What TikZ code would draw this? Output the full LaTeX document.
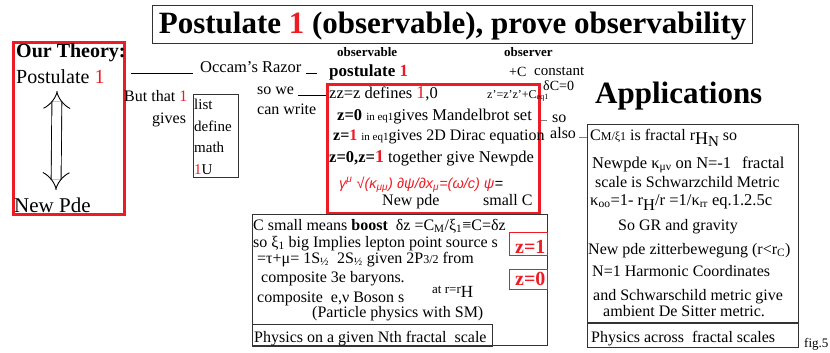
\documentclass[tikz,border=0pt]{standalone}
\usepackage{fontspec}
\setmainfont{Liberation Serif}
\newfontfamily\arialfont{Liberation Sans}
\usetikzlibrary{arrows.meta}
\definecolor{myred}{RGB}{237,28,36}
\newcommand{\fs}[1]{\fontsize{#1}{#1}\selectfont}
\newcommand{\rd}[1]{\textcolor{myred}{#1}}
\newcommand{\lo}[1]{\textsubscript{#1}}
\begin{document}
\begin{tikzpicture}[x=1pt,y=-1pt,
  txt/.style={anchor=base west,inner sep=0pt,font=\fs{16}},
  redbox/.style={draw=myred,line width=3pt,inner sep=0pt,anchor=north west},
  blackbox/.style={draw=black!80,line width=1.2pt,inner sep=0pt,anchor=north west},
  thinred/.style={draw=myred,line width=0.8pt,inner sep=0pt,anchor=north west},
  link/.style={draw=black,line width=0.8pt},
  glink/.style={draw=gray,line width=0.8pt}]
\useasboundingbox (0,0) rectangle (830,353);
% title
\node[draw=black!80,line width=1.2pt,anchor=north west,inner sep=0pt,
  minimum width=600pt,minimum height=38pt,text height=23pt,text depth=5pt,
  font=\fs{31}\bfseries] (title) at (152,5) {Postulate \rd{1} (observable), prove observability};
% left box
\node[redbox,minimum width=111pt,minimum height=172pt] (theory) at (12,41) {};
\node[txt,font=\fs{20}\bfseries] (our) at (16,58) {Our Theory:};
\node[txt,font=\fs{20}] (post) at (16,84) {Postulate \rd{1}};
\node[txt,font=\fs{21}] (newpde) at (14,212) {New Pde};
\coordinate (atop) at (57,91);
\coordinate (abot) at (56,190);
\draw[double distance=9pt,line width=0.9pt,{Implies}-{Implies}] (atop) -- (abot);
% Occam
\coordinate (o1) at (131,73);
\node[txt,font=\fs{16.5}] (occam) at (200,73) {Occam's Razor};
\draw[link] (o1) -- ([xshift=-7pt]occam.base west);
\draw[link] ([xshift=4pt]occam.base east) -- ++(11,0);
% but that 1 gives
\node[txt] (but) at (124,102) {But that \rd{1}};
\node[txt] (gives) at (152,123) {gives};
\node[blackbox,minimum width=45pt,minimum height=83pt] (list) at (193,94) {};
\node[txt,font=\fs{15}] (li1) at (194,109) {list};
\node[txt,font=\fs{15}] (li2) at (194,131) {define};
\node[txt,font=\fs{15}] (li3) at (194,152) {math};
\node[txt,font=\fs{15}] (li4) at (194,174) {\rd{1}U};
% so we can write
\node[txt] (sowe) at (257,94) {so we};
\node[txt] (canwrite) at (257,114) {can write};
% middle red box
\node[redbox,minimum width=212pt,minimum height=129pt] (midbox) at (326,83) {};
\draw[link] ([xshift=4pt,yshift=-1pt]sowe.base east) -- ([yshift=-1pt]sowe.base east -| midbox.west);
\node[txt,font=\fs{13}\bfseries] (obsv) at (337,57) {observable};
\node[txt,font=\fs{17}\bfseries] (postl) at (329,77) {postulate \rd{1}};
\node[txt,font=\fs{16.5}] (m1) at (329,98) {zz=z defines \rd{\fs{18}1},0};
\node[txt,font=\fs{12}] (zeq) at (487,98) {z'=z'z'+C\lo{eq1}};
\node[txt,font=\fs{16.5}] (m2) at (337,120) {\textbf{z=0} {\fs{11}in eq1}gives Mandelbrot set};
\node[txt,font=\fs{16}] (m3) at (333,140) {\textbf{z=\rd{1}} {\fs{11}in eq1}gives 2D Dirac equation};
\node[txt,font=\fs{16.5}] (m4) at (329,162) {\textbf{z=0,z=\rd{\fs{18}1}} together give Newpde};
\node[txt,font=\arialfont\itshape\fs{14.5}] (eqn) at (339,188) {\rd{γ\textsuperscript{μ} √(κ\lo{μμ}) ∂ψ/∂x\lo{μ}=(ω/c) ψ}=};
\node[txt] (npde) at (382,205) {New pde};
\node[txt] (smallc) at (483,205) {small C};
% observer
\node[txt,font=\fs{13}\bfseries] (obsr) at (504,57) {observer};
\node[txt,font=\fs{14}] (plusc) at (509,77) {+C};
\node[txt,font=\fs{15}] (const) at (534,75) {constant};
\node[txt,font=\fs{14}] (dc) at (543,90) {δC=0};
\node[txt] (so) at (552,122) {so};
\node[txt] (also) at (550,138) {also};
% applications
\node[txt,font=\fs{31}\bfseries] (app) at (595,103) {Applications};
\node[blackbox,minimum width=211pt,minimum height=223pt] (appbox) at (587,124) {};
\draw[blackbox] (appbox.west |- 0,323) -- (appbox.east |- 0,323);
\draw[glink] ([yshift=2pt]so.base west -| midbox.east) -- ([xshift=-5pt,yshift=2pt]so.base west);
\draw[glink] ([xshift=3pt,yshift=1pt]also.base east) -- ([yshift=1pt]also.base east -| appbox.west);
\node[txt] (r1) at (590,140) {C{\fs{12}M/ξ1} is fractal r\raisebox{-4pt}{\fs{18}H}\raisebox{-6pt}{\fs{15}N} so};
\node[txt,font=\fs{16.5}] (r2) at (592,168) {Newpde κ\lo{μν} on N=-1\ \ \,fractal};
\node[txt] (r3) at (595,187) {scale is Schwarzchild Metric};
\node[txt,font=\fs{16.5}] (r4) at (590,205) {κ\lo{oo}=1- r\raisebox{-5pt}{H}/r =1/κ\lo{rr} eq.1.2.5c};
\node[txt] (r5) at (618,230) {So GR and gravity};
\node[txt] (r6) at (588,254) {New pde zitterbewegung (r<r\lo{C})};
\node[txt] (r7) at (592,276) {N=1 Harmonic Coordinates};
\node[txt] (r8) at (593,300) {and Schwarschild metric give};
\node[txt] (r9) at (603,316) {ambient De Sitter metric.};
\node[txt] (r10) at (591,342) {Physics across\ \ fractal scales};
\node[txt,font=\fs{13}] (fig) at (804,347) {fig.5};
% lower box
\node[blackbox,minimum width=295pt,minimum height=131pt] (lowbox) at (252,214) {};
\node[blackbox,minimum width=240pt,minimum height=22pt] (physN) at (252,324) {};
\node[txt] (b1) at (253,230) {C small means \textbf{boost}\ \ δz =C\lo{M}/ξ\lo{1}≡C=δz};
\node[txt] (b2) at (253,247) {so ξ\lo{1} big Implies lepton point source s};
\node[txt] (b3) at (257,263) {=τ+μ= 1S\lo{½}\ \ 2S\lo{½} given 2P{\fs{12}3/2} from};
\node[txt] (b4) at (261,282) {composite 3e baryons.};
\node[txt,font=\fs{13}] (b5) at (432,293) {at r=r\raisebox{-4pt}{\fs{17}H}};
\node[txt] (b6) at (257,302) {composite\ \ e,ν Boson s};
\node[txt] (b7) at (312,317) {(Particle physics with SM)};
\node[txt] (b8) at (254,342) {Physics on a given Nth fractal\ \ scale};
\node[thinred,minimum width=38pt,minimum height=23pt] (z1) at (509,232) {};
\node[txt,font=\fs{20}\bfseries,text=myred] (z1t) at (515,253) {z=1};
\node[thinred,minimum width=38pt,minimum height=20pt] (z0) at (509,269) {};
\node[txt,font=\fs{20}\bfseries,text=myred] (z0t) at (515,285) {z=0};
\end{tikzpicture}
\end{document}
